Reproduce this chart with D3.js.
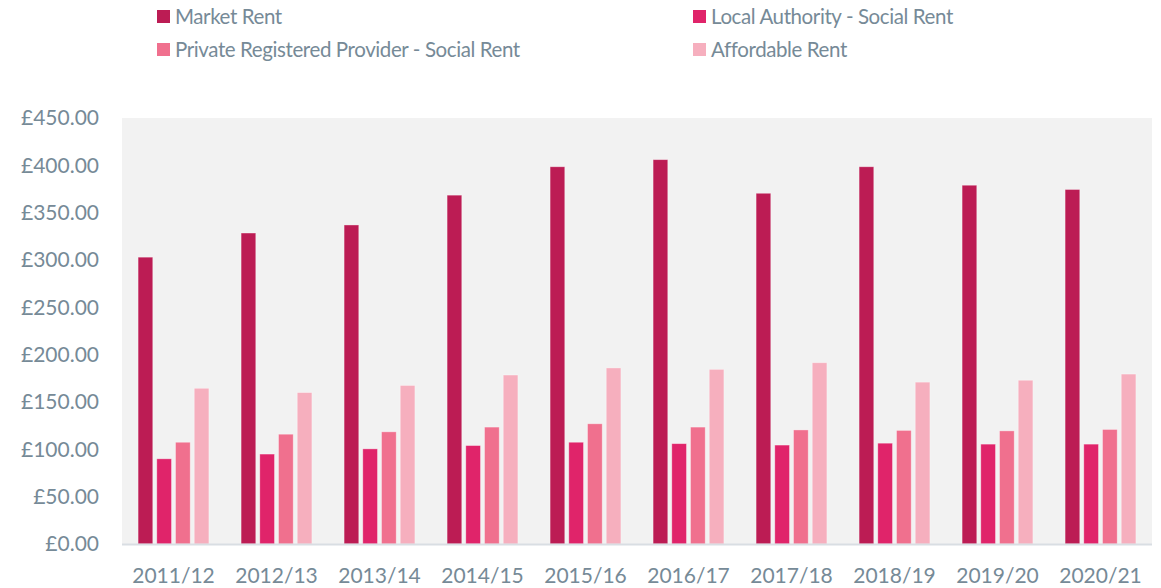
<!DOCTYPE html>
<html>
<head>
<meta charset="utf-8">
<script src="https://cdn.jsdelivr.net/npm/d3@7"></script>
<style>
  body { margin: 0; background: #fff; }
  text { font-family: Lato, "Open Sans", sans-serif; fill: #768a97; }
</style>
</head>
<body>
<div id="chart"></div>
<script>
const width = 1161;
const height = 588;

const years = ["2011/12", "2012/13", "2013/14", "2014/15", "2015/16",
               "2016/17", "2017/18", "2018/19", "2019/20", "2020/21"];
const seriesNames = ["Market Rent", "Local Authority - Social Rent",
                     "Private Registered Provider - Social Rent", "Affordable Rent"];
const seriesColors = ["#bc1c54", "#e0246a", "#f0708e", "#f6afbe"];

const marketRent = [303, 328.5, 337, 368.5, 398.5, 406, 370.5, 398.5, 379, 374.5];
const localAuthority = [90, 95, 100.5, 104, 107.5, 106, 104.5, 106.5, 105.5, 105.5];
const privateProvider = [107.5, 116, 118.5, 123.5, 127, 123.5, 120.5, 120, 119.5, 121];
const affordableRent = [164.5, 160, 167.5, 178.5, 186, 184.5, 191.5, 171, 173, 179.5];
const yTicks = [0, 50, 100, 150, 200, 250, 300, 350, 400, 450];

const seriesValues = [marketRent, localAuthority, privateProvider, affordableRent];

const margin = { top: 118, right: 9, bottom: 44, left: 122 };
const innerW = width - margin.left - margin.right;
const innerH = height - margin.top - margin.bottom;

const svg = d3.select("#chart")
    .append("svg")
    .attr("width", width)
    .attr("height", height);

const g = svg.append("g")
    .attr("transform", `translate(${margin.left},${margin.top})`);

const x0 = d3.scaleBand()
    .domain(years)
    .range([0, innerW])
    .padding(0);

const x1 = d3.scaleBand()
    .domain(d3.range(seriesNames.length))
    .range([0, x0.bandwidth()])
    .paddingInner(0.214)
    .paddingOuter(0.86);

const y = d3.scaleLinear()
    .domain([0, 450])
    .range([innerH, 0]);

// plot background
g.append("rect")
    .attr("x", 0)
    .attr("y", 0)
    .attr("width", innerW)
    .attr("height", innerH)
    .attr("fill", "#f2f2f2");

// bars
const groups = g.selectAll(".year")
    .data(years)
    .enter().append("g")
    .attr("class", "year")
    .attr("transform", d => `translate(${x0(d)},0)`);

groups.selectAll("rect")
    .data((d, i) => seriesValues.map((vals, s) => ({ s: s, v: vals[i] })))
    .enter().append("rect")
    .attr("x", d => x1(d.s))
    .attr("y", d => y(d.v))
    .attr("width", x1.bandwidth())
    .attr("height", d => innerH - y(d.v))
    .attr("fill", d => seriesColors[d.s])
    .attr("stroke", "#ffffff")
    .attr("stroke-opacity", 0.45)
    .attr("stroke-width", 0.8);

// baseline
g.append("line")
    .attr("x1", 0)
    .attr("x2", innerW)
    .attr("y1", innerH + 0.5)
    .attr("y2", innerH + 0.5)
    .attr("stroke", "#d9dee3")
    .attr("stroke-width", 2);

// y axis labels
const yAxis = d3.axisLeft(y)
    .tickValues(yTicks)
    .tickSize(0)
    .tickPadding(23)
    .tickFormat(d => "£" + d3.format(".2f")(d));

g.append("g")
    .call(yAxis)
    .call(sel => sel.select(".domain").remove())
    .selectAll("text")
    .attr("font-size", 21)
    .attr("font-family", "Lato, 'Open Sans', sans-serif")
    .attr("fill", "#768a97");

// x axis labels
const xAxis = d3.axisBottom(x0)
    .tickSize(0)
    .tickPadding(24);

g.append("g")
    .attr("transform", `translate(0,${innerH})`)
    .call(xAxis)
    .call(sel => sel.select(".domain").remove())
    .selectAll("text")
    .attr("font-size", 21)
    .attr("font-family", "Lato, 'Open Sans', sans-serif")
    .attr("fill", "#768a97");

// legend
const legendPos = [
    { x: 157, y: 10 },
    { x: 693, y: 10 },
    { x: 157, y: 43 },
    { x: 693, y: 43 }
];

const legend = svg.selectAll(".legend")
    .data(seriesNames)
    .enter().append("g")
    .attr("class", "legend")
    .attr("transform", (d, i) => `translate(${legendPos[i].x},${legendPos[i].y})`);

legend.append("rect")
    .attr("width", 13)
    .attr("height", 13)
    .attr("fill", (d, i) => seriesColors[i]);

legend.append("text")
    .attr("x", 18)
    .attr("y", 14)
    .attr("font-size", 20.5)
    .attr("letter-spacing", -0.4)
    .text(d => d);
</script>
</body>
</html>
